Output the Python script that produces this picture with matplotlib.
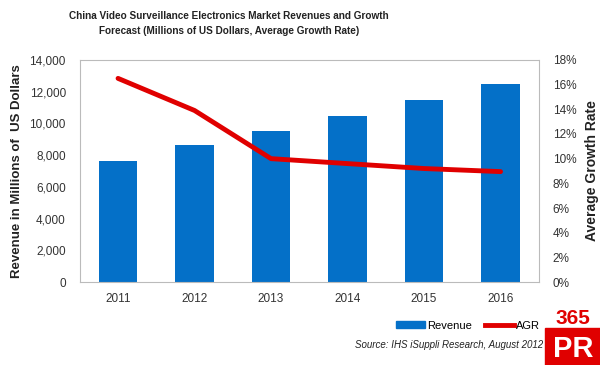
import matplotlib.pyplot as plt
from matplotlib.patches import Rectangle, Patch
from matplotlib.lines import Line2D
from matplotlib.ticker import FuncFormatter

# データ
years = ['2011', '2012', '2013', '2014', '2015', '2016']
revenue = [7600, 8650, 9550, 10450, 11450, 12480]
agr = [16.5, 13.9, 10.0, 9.6, 9.2, 8.95]

plt.rcParams['font.family'] = ['Liberation Sans', 'DejaVu Sans']

fig = plt.figure(figsize=(6, 3.65), dpi=100)
ax = fig.add_axes([0.133, 0.227, 0.765, 0.609])

x = range(len(years))
ax.bar(x, revenue, width=0.5, color='#0470c8', zorder=2)
ax.set_xlim(-0.5, 5.5)
ax.set_ylim(0, 14000)
ax.set_yticks(range(0, 14001, 2000))
ax.yaxis.set_major_formatter(FuncFormatter(lambda v, p: f'{int(v):,}'))
ax.set_xticks(list(x))
ax.set_xticklabels(years)
ax.tick_params(length=0, labelsize=8.5, colors='#333333', pad=8)
ax.tick_params(axis='y', pad=10)
for s in ax.spines.values():
    s.set_color('#bbbbbb')
    s.set_linewidth(0.8)
ax.spines['top'].set_linestyle((0, (1, 1)))
ax.set_ylabel('Revenue in Millions of  US Dollars', fontsize=9.5,
              fontweight='bold', color='#222222', labelpad=5)

ax2 = ax.twinx()
ax2.plot(list(x), agr, color='#e00000', lw=3.5, solid_joinstyle='round',
         solid_capstyle='round', zorder=3)
ax2.set_ylim(0, 18)
ax2.set_yticks(range(0, 19, 2))
ax2.yaxis.set_major_formatter(FuncFormatter(lambda v, p: f'{int(v)}%'))
ax2.tick_params(length=0, labelsize=8.5, colors='#333333', pad=10)
for s in ax2.spines.values():
    s.set_visible(False)
ax2.set_ylabel('Average Growth Rate', fontsize=10, fontweight='bold',
               color='#222222', labelpad=6)

fig.text(0.382, 0.97, 'China Video Surveillance Electronics Market Revenues and Growth\n'
         'Forecast (Millions of US Dollars, Average Growth Rate)',
         ha='center', va='top', fontsize=7.2, fontweight='bold', color='#222222',
         linespacing=1.6)

handles = [Patch(color='#0470c8'), Line2D([], [], color='#e00000', lw=3.5)]
fig.legend(handles, ['Revenue', 'AGR'], loc='center', bbox_to_anchor=(0.78, 0.108),
           ncol=2, frameon=False, fontsize=8, handlelength=2.6, handleheight=0.5,
           columnspacing=1.2, handletextpad=0.2)

fig.text(0.905, 0.055, 'Source: IHS iSuppli Research, August 2012', ha='right',
         va='center', fontsize=7, style='italic', color='#222222')

# 365PR ロゴ
fig.patches.append(Rectangle((0.908, 0.0), 0.092, 0.102, transform=fig.transFigure,
                             color='#e00000', zorder=5))
fig.text(0.955, 0.128, '365', ha='center', va='center', fontsize=15,
         fontweight='bold', color='#e00000')
fig.text(0.955, 0.045, 'PR', ha='center', va='center', fontsize=21,
         fontweight='bold', color='white', zorder=6)

fig.savefig('out.png', dpi=100, facecolor='white')
